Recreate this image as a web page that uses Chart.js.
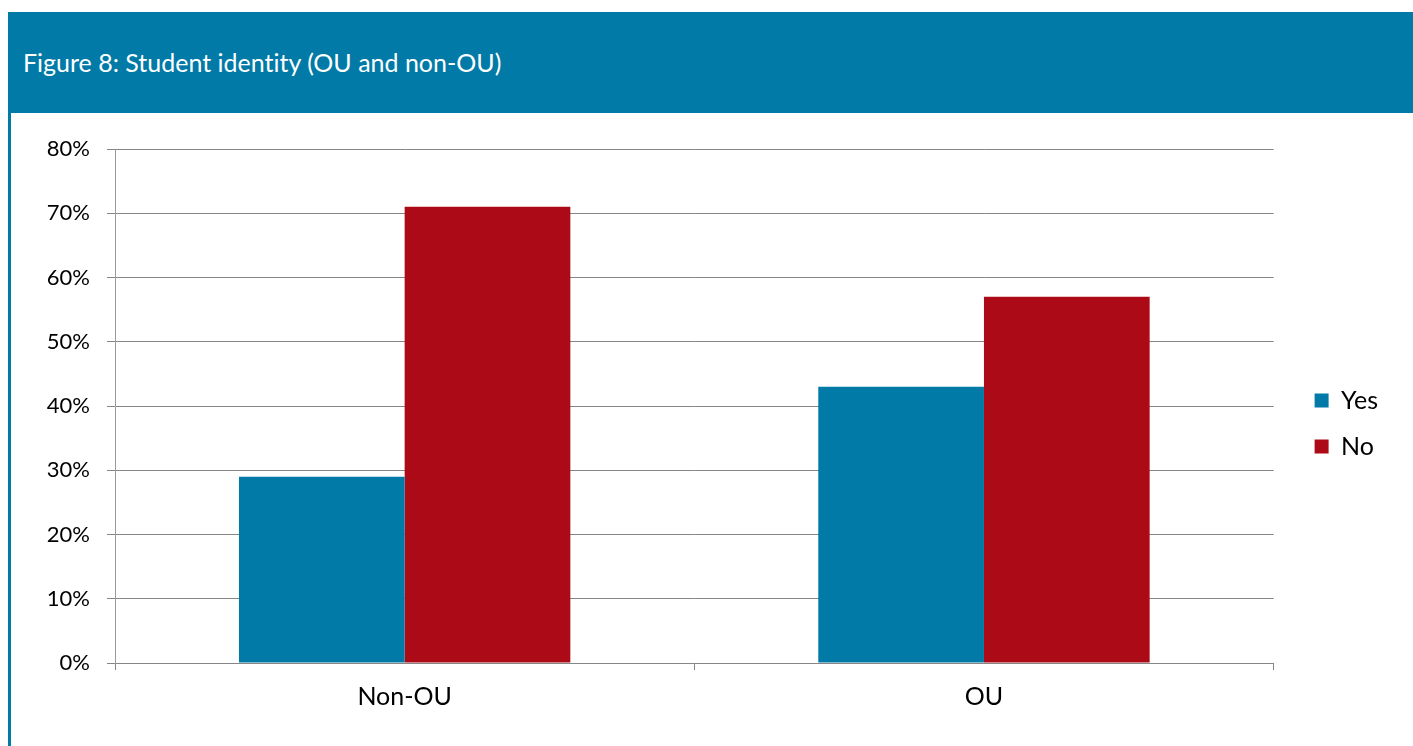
<!DOCTYPE html>
<html>
<head>
  <title>Figure 8: Student identity</title>
  <script src="https://cdn.jsdelivr.net/npm/chart.js"></script>
  <style>
    body { margin: 0; background: #fff; font-family: Lato, "Open Sans", sans-serif; }
    #header {
      position: absolute; left: 8px; top: 12px; width: 1405px; height: 101px;
      background: #017aa7; color: #fff; font-size: 25px; font-variant-ligatures: none;
      box-sizing: border-box; padding-left: 15px; line-height: 101px;
    }
    #stripe { position: absolute; left: 8px; top: 113px; width: 3px; height: 633px; background: #017aa7; }
    #wrap { position: absolute; left: 11px; top: 113px; width: 1402px; height: 633px; }
  </style>
</head>
<body>
  <div id="header">Figure 8: Student identity (OU and non-OU)</div>
  <div id="stripe"></div>
  <div id="wrap"><canvas id="identityChart"></canvas></div>

  <script>
    const categories = ['Non-OU', 'OU'];
    const yesValues = [29, 43];
    const noValues = [71, 57];
    const yTicks = [0, 10, 20, 30, 40, 50, 60, 70, 80];

    const gridGrey = '#868686';
    const tickFont = { family: 'Lato', size: 22 };
    const labelFont = { family: 'Lato', size: 25 };

    new Chart(document.getElementById('identityChart'), {
      type: 'bar',
      data: {
        labels: categories,
        datasets: [
          { label: 'Yes', data: yesValues, backgroundColor: '#017aa7' },
          { label: 'No', data: noValues, backgroundColor: '#ad0a17' }
        ]
      },
      options: {
        responsive: true,
        maintainAspectRatio: false,
        animation: false,
        datasets: { bar: { categoryPercentage: 0.572, barPercentage: 1 } },
        layout: { padding: { left: 0, top: 36, right: 25, bottom: 0 } },
        plugins: {
          tooltip: { enabled: false },
          legend: {
            position: 'right',
            fullSize: false,
            // blank title only nudges the legend items down
            title: { display: true, text: ' ', font: { size: 10 }, padding: { top: 23, bottom: 0 } },
            labels: {
              color: '#000', font: labelFont,
              boxWidth: 14, boxHeight: 14, padding: 21
            }
          }
        },
        scales: {
          x: {
            grid: { offset: true, drawOnChartArea: false, tickLength: 7, color: gridGrey, lineWidth: 1 },
            border: { color: gridGrey, width: 1 },
            ticks: { color: '#000', font: labelFont, padding: 12 },
            afterFit: s => { s.height = 83; }
          },
          y: {
            min: 0, max: 80,
            afterBuildTicks: s => { s.ticks = yTicks.map(v => ({ value: v })); },
            grid: { color: gridGrey, lineWidth: 1, tickLength: 8 },
            border: { color: '#999', width: 1 },
            ticks: { color: '#000', font: tickFont, padding: 17, callback: v => v + '%' },
            afterFit: s => { s.width = 104; }
          },
          // empty spacer between the plot and the legend
          gap: {
            type: 'linear', position: 'right',
            grid: { display: false }, border: { display: false }, ticks: { display: false },
            afterFit: s => { s.width = 20; }
          }
        }
      }
    });
  </script>
</body>
</html>
